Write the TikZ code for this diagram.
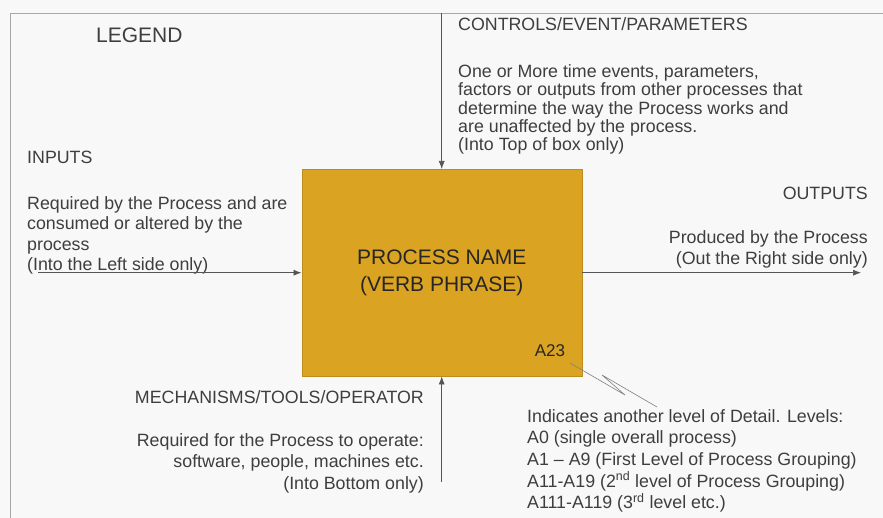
\documentclass[tikz,border=0pt]{standalone}
\usepackage{fontspec}
\setmainfont{Liberation Sans}
\usepackage{tikz}
\usetikzlibrary{arrows.meta}
\usetikzlibrary{positioning}

\definecolor{procfill}{RGB}{219,163,34}
\definecolor{procedge}{RGB}{190,140,30}
\definecolor{inkgray}{RGB}{62,62,62}
\definecolor{linegray}{RGB}{85,85,85}
\definecolor{framegray}{RGB}{168,168,168}
\definecolor{paper}{RGB}{248,248,248}

\begin{document}
\begin{tikzpicture}[x=1pt, y=-1pt, >={Latex[length=8pt,width=6pt]},
    proc/.style={draw=procedge, fill=procfill, minimum width=280pt, minimum height=207pt,
        align=center, text=black!85, font={\fontsize{21}{26.7}\selectfont}},
    title/.style={inner sep=0pt, text=inkgray, font={\fontsize{17.8}{20}\selectfont}},
    note/.style={inner sep=0pt, text=inkgray, align=left, font={\fontsize{17.8}{20.5}\selectfont}},
    flow/.style={->, draw=linegray, line width=0.7pt},
    bolt/.style={draw=gray, line width=0.6pt}]
        \useasboundingbox[fill=paper] (0,0) rectangle (883,518);
        \draw[framegray, line width=1.2pt] (10.5,518) |- (883,13.3);

        % Node for the process box
        \node[proc] (Proc) at (441.7,272.7) {PROCESS NAME\\(VERB PHRASE)};
        \node[inner sep=0pt, text=black!85, font={\fontsize{17}{20}\selectfont}] (Num) at (550,351) {A23};

        % Nodes for the legend texts
        \node[title, anchor=north west, font={\fontsize{21}{24}\selectfont}] (Legend) at (96,27.5) {LEGEND};
        \node[title, anchor=north west] (CtlTitle) at (458,17) {CONTROLS/EVENT/PARAMETERS};
        \node[note, below=34pt of CtlTitle.south west, anchor=north west,
            font={\fontsize{17.8}{18.3}\selectfont}] (CtlNote)
            {One or More time events, parameters,\\factors or outputs from other processes that\\determine the way the Process works and\\are unaffected by the process.\\(Into Top of box only)};
        \node[title, anchor=north west] (InTitle) at (27,151) {INPUTS};
        \node[note, below=32pt of InTitle.south west, anchor=north west] (InNote)
            {Required by the Process and are\\consumed or altered by the\\process\\(Into the Left side only)};
        \node[title, anchor=north east] (OutTitle) at (868,187) {OUTPUTS};
        \node[note, align=right, below=30.5pt of OutTitle.south east, anchor=north east] (OutNote)
            {Produced by the Process\\(Out the Right side only)};
        \node[title, anchor=north east] (MechTitle) at (424,390) {MECHANISMS/TOOLS/OPERATOR};
        \node[note, align=right, below=29.5pt of MechTitle.south east, anchor=north east,
            font={\fontsize{17.8}{21.7}\selectfont}] (MechNote)
            {Required for the Process to operate:\\software, people, machines etc.\\(Into Bottom only)};
        \node[note, anchor=north west, font={\fontsize{17.8}{21.7}\selectfont}] (LvlNote) at (527,409)
            {Indicates another level of Detail. Levels:\\A0 (single overall process)\\A1 -- A9 (First Level of Process Grouping)\\A11-A19 (2\textsuperscript{nd} level of Process Grouping)\\A111-A119 (3\textsuperscript{rd} level etc.)};

        % Free ends of the arrows
        \coordinate (CtlTop) at (441.7,13.3);
        \coordinate (InLeft) at (38,272.7);
        \coordinate (OutRight) at (861,272.7);
        \coordinate (MechBot) at (441.7,482);
        \coordinate (BoltA) at (570,363);
        \coordinate (BoltB) at (657,407);

        % Edges for the arrows
        \draw[flow] (CtlTop) -- (Proc.north);
        \draw[flow] (InLeft) -- (Proc.west);
        \draw[flow] (Proc.east) -- (OutRight);
        \draw[flow] (MechBot) -- (Proc.south);
        \draw[bolt] (BoltA) -- (625,395) -- (602,375) -- (BoltB);
    \end{tikzpicture}
\end{document}
